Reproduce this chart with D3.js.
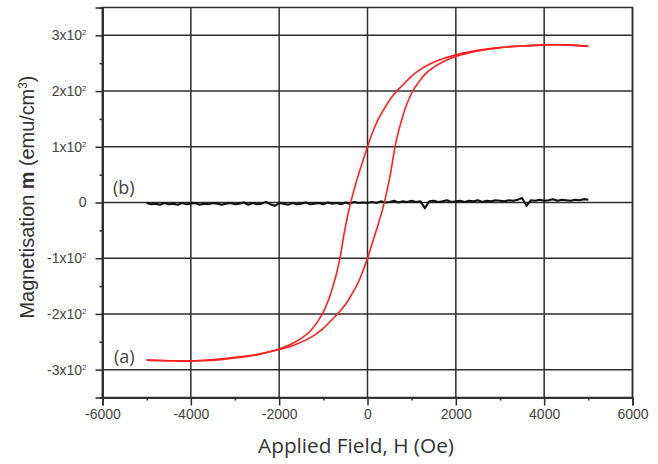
<!DOCTYPE html>
<html>
<head>
<meta charset="utf-8">
<script src="https://cdn.jsdelivr.net/npm/d3@7"></script>
<style>
  html, body { margin: 0; padding: 0; background: #fff; }
  svg { display: block; }
</style>
</head>
<body>
<svg id="chart" width="658" height="464"></svg>
<script>
// ---------------- DATA ----------------
const xTicks = [-6000, -4000, -2000, 0, 2000, 4000, 6000];
const xMinorTicks = [-5000, -3000, -1000, 1000, 3000, 5000];
const yTicks = [-300, -200, -100, 0, 100, 200, 300];
const yMinorTicks = [-250, -150, -50, 50, 150, 250];
const yTickLabels = ["-3x10", "-2x10", "-1x10", "0", "1x10", "2x10", "3x10"];

// (a) red hysteresis loop: descending-field branch (upper)
const upperH = [5000, 4700, 4400, 4000, 3500, 3000, 2500, 2000, 1700, 1400, 1200, 1000, 850, 700, 600, 500, 400, 300, 200, 100, 0,
  -100, -200, -300, -380, -450, -530, -623, -700, -780, -865, -950, -1015, -1150, -1300, -1500, -1750, -2000, -2500, -3000, -3500, -4000, -4500, -5000];
const upperM = [280, 282, 283, 283, 281, 278, 273, 265, 258, 248, 239, 227, 215, 203, 194, 184, 171, 158, 142, 123, 100,
  76, 51, 24, 0, -24, -56, -100, -127, -150, -171, -188, -199, -216, -231, -244, -255, -263, -273, -279, -283, -284, -284, -283];
// ascending-field branch (lower)
const lowerH = [-5000, -4500, -4000, -3500, -3000, -2500, -2000, -1700, -1400, -1200, -1000, -850, -700, -600, -500, -400, -300, -200, -100, 0,
  100, 200, 300, 380, 450, 530, 623, 700, 780, 865, 950, 1024, 1150, 1300, 1500, 1750, 2000, 2500, 3000, 3500, 4000, 4500, 5000];
const lowerM = [-283, -284, -285, -282, -278, -273, -264, -257, -247, -238, -226, -214, -202, -193, -183, -171, -157, -142, -122, -100,
  -75, -50, -24, 0, 24, 56, 100, 127, 150, 171, 188, 200, 215, 230, 243, 254, 262, 272, 278, 281, 283, 283, 281];

// (b) black near-zero trace
const blackH = [-5000, -4900, -4800, -4700, -4600, -4500, -4400, -4300, -4200, -4100,
  -4000, -3900, -3800, -3700, -3600, -3500, -3400, -3300, -3200, -3100,
  -3000, -2900, -2800, -2700, -2600, -2500, -2400, -2300, -2200, -2100,
  -2000, -1900, -1800, -1700, -1600, -1500, -1400, -1300, -1200, -1100,
  -1000, -900, -800, -700, -600, -500, -400, -300, -200, -100, 0,
  100, 200, 300, 400, 500, 600, 700, 800, 900, 1000,
  1100, 1200, 1300, 1400, 1500, 1600, 1700, 1800, 1900, 2000,
  2100, 2200, 2300, 2400, 2500, 2600, 2700, 2800, 2900, 3000,
  3100, 3200, 3300, 3400, 3500, 3600, 3700, 3800, 3900, 4000,
  4100, 4200, 4300, 4400, 4500, 4600, 4700, 4800, 4900, 5000];
const blackM = [-1, -3, -2, -4, -1, -3, -2, -4, -1, -3,
  -2, -1, -4, -2, -3, -1, -2, -4, -2, -1,
  -3, -2, 0, -4, -1, -3, -2, 1, -3, -6,
  -1, -2, -4, -1, -3, -2, 0, -3, -2, -1,
  -3, 0, -2, -1, -3, 0, -2, 1, -1, 0, -1,
  1, -1, 2, 0, 1, 3, 0, 2, 1, 3,
  1, 2, -10, 2, 3, 1, 2, 4, 1, 2,
  3, 1, 3, 2, 4, 1, 3, 2, 4, 3,
  2, 4, 3, 5, 8, -6, 4, 3, 5, 3,
  4, 6, 3, 5, 4, 3, 5, 4, 6, 5];

// ---------------- CHART ----------------
const svg = d3.select("#chart");
const x = d3.scaleLinear().domain([-6000, 6000]).range([102.5, 632.5]);
const y = d3.scaleLinear().domain([-350, 350]).range([397.5, 7.5]);

const gridColor = "#2e2e2e";
const labelFont = "'Liberation Sans', Arial, sans-serif";
const titleFont = "'Open Sans', 'Noto Sans', sans-serif";

// grid
const grid = svg.append("g");
grid.selectAll("line.v").data(xTicks).join("line")
  .attr("x1", d => x(d)).attr("x2", d => x(d))
  .attr("y1", y(350)).attr("y2", y(-350))
  .attr("stroke", gridColor).attr("stroke-width", 1.5);
grid.selectAll("line.h").data(yTicks).join("line")
  .attr("x1", x(-6000)).attr("x2", x(6000))
  .attr("y1", d => y(d)).attr("y2", d => y(d))
  .attr("stroke", gridColor).attr("stroke-width", 1.5);
// frame
svg.append("rect")
  .attr("x", x(-6000)).attr("y", y(350))
  .attr("width", x(6000) - x(-6000)).attr("height", y(-350) - y(350))
  .attr("fill", "none").attr("stroke", gridColor).attr("stroke-width", 1.5);

// axes
const xAxis = svg.append("g").attr("transform", `translate(0,${y(-350)})`)
  .call(d3.axisBottom(x).tickValues(xTicks).tickSize(8).tickPadding(4).tickFormat(d => String(d)));
const xMinor = svg.append("g").attr("transform", `translate(0,${y(-350)})`)
  .call(d3.axisBottom(x).tickValues(xMinorTicks).tickSize(3).tickFormat(""));
const yAxis = svg.append("g").attr("transform", `translate(${x(-6000)},0)`)
  .call(d3.axisLeft(y).tickValues(yTicks).tickSize(7).tickPadding(9).tickFormat(""));
const yMinor = svg.append("g").attr("transform", `translate(${x(-6000)},0)`)
  .call(d3.axisLeft(y).tickValues(yMinorTicks).tickSize(3).tickFormat(""));

[xAxis, xMinor, yAxis, yMinor].forEach(g => {
  g.select(".domain").attr("stroke", gridColor).attr("stroke-width", 1.5);
  g.selectAll(".tick line").attr("stroke", gridColor).attr("stroke-width", 1.5);
});
xAxis.selectAll(".tick text")
  .attr("font-family", labelFont).attr("font-size", 14).attr("fill", "#444");

yAxis.selectAll(".tick text").each(function(d) {
  const t = d3.select(this);
  t.attr("font-family", labelFont).attr("font-size", 14).attr("fill", "#444");
  const lab = yTickLabels[yTicks.indexOf(d)];
  if (d === 0) {
    t.text(lab);
  } else {
    t.append("tspan").text(lab);
    t.append("tspan").attr("dy", -5).attr("font-size", 8).text("2");
  }
});

// series lines
const line = d3.line().x(d => x(d[0])).y(d => y(d[1])).curve(d3.curveCatmullRom.alpha(0.5));
const upper = upperH.map((h, i) => [h, upperM[i]]);
const lower = lowerH.map((h, i) => [h, lowerM[i]]);
const black = blackH.map((h, i) => [h, blackM[i]]);

svg.append("path").datum(black).attr("d", d3.line().x(d => x(d[0])).y(d => y(d[1])))
  .attr("fill", "none").attr("stroke", "#111").attr("stroke-width", 2.1).attr("stroke-linejoin", "round");
[upper, lower].forEach(s => {
  svg.append("path").datum(s).attr("d", line)
    .attr("fill", "none").attr("stroke", "#ff2020").attr("stroke-width", 1.6);
});

// series labels
svg.append("text").attr("x", 113).attr("y", 194).text("(b)")
  .attr("font-family", titleFont).attr("font-size", 18).attr("fill", "#444");
svg.append("text").attr("x", 114).attr("y", 363).text("(a)")
  .attr("font-family", titleFont).attr("font-size", 18).attr("fill", "#444");

// axis titles
const xt = svg.append("text").attr("x", 356).attr("y", 453).attr("text-anchor", "middle")
  .attr("font-family", titleFont).attr("font-size", 18).attr("fill", "#333")
  .text("Applied Field, H (Oe)");
const xw = xt.node().getComputedTextLength();
xt.attr("font-size", 18 * 196 / xw);

const yt = svg.append("text")
  .attr("transform", "translate(34,197) rotate(-90)")
  .attr("text-anchor", "middle")
  .attr("font-family", labelFont).attr("font-size", 20).attr("fill", "#333");
yt.append("tspan").text("Magnetisation ");
yt.append("tspan").attr("font-weight", "bold").text("m");
yt.append("tspan").text(" (emu/cm");
yt.append("tspan").attr("class", "sup").attr("dy", -7).attr("font-size", 12).text("3");
yt.append("tspan").attr("dy", 7).text(")");
const yw = yt.node().getComputedTextLength();
yt.attr("font-size", 20 * 243 / yw);
yt.select("tspan.sup").attr("font-size", 12 * 243 / yw);
</script>
</body>
</html>
